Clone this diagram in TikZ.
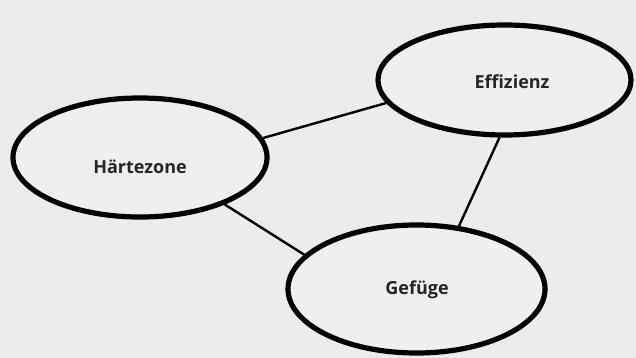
\documentclass[tikz,border=0pt]{standalone}
\usepackage{fontspec}
\setmainfont{Open Sans}
\usetikzlibrary{shapes.geometric}
\definecolor{bgc}{HTML}{ECECEC}
\definecolor{fillc}{HTML}{EFEFEF}
\tikzset{
  bubble/.style={ellipse, draw=black, line width=5.2pt, fill=fillc, inner sep=0pt},
  link/.style={draw=black, line width=2.4pt},
  label/.style={font=\bfseries\fontsize{18}{20}\selectfont, text=black!85}
}
\begin{document}
\begin{tikzpicture}[x=1pt,y=-1pt]
\fill[bgc] (0,0) rectangle (636,358);
\useasboundingbox (0,0) rectangle (636,358);
\node[bubble, minimum width=254pt, minimum height=119pt] (h) at (140,157.5) {};
\node[bubble, minimum width=253pt, minimum height=110pt] (e) at (504.5,80) {};
\node[bubble, minimum width=257pt, minimum height=128pt] (g) at (416.5,289) {};
\draw[link] (h.9.6) -- (e.191);
\draw[link] (e.-95) -- (g.56);
\draw[link] (h.-29.6) -- (g.163);
\node[label] (ht) at (140,167) {Härtezone};
\node[label] (et) at (512,82) {Effizienz};
\node[label] (gt) at (417,290) {Gefüge};
\end{tikzpicture}
\end{document}
